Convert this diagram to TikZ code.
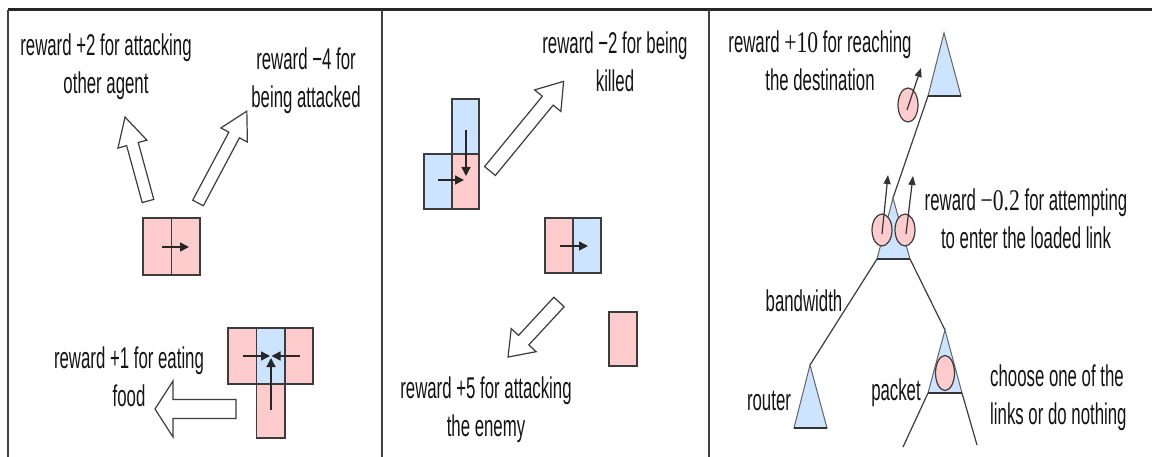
\documentclass[tikz,border=0pt]{standalone}
\usepackage{fontspec}
\setmainfont{Liberation Sans}[FakeStretch=0.56]
\newfontfamily\serifnum{Liberation Serif}[FakeStretch=0.72]
\usetikzlibrary{arrows.meta}
\definecolor{pinkc}{RGB}{255,204,206}
\definecolor{bluec}{RGB}{204,228,255}
\definecolor{edgec}{RGB}{60,60,60}
\newcommand\harrow[7]{%
  \begin{scope}[shift={(#1,#2)},rotate=#3]
    \draw[hollow] (0,-#5) -- ({#4-#7},-#5) -- ({#4-#7},-#6) -- (#4,0) -- ({#4-#7},#6) -- ({#4-#7},#5) -- (0,#5) -- cycle;
  \end{scope}}
\begin{document}
\begin{tikzpicture}[x=1pt,y=-1pt,
  lbl/.style={font=\fontsize{30}{38}\selectfont, align=center, inner sep=0pt, text=black!92},
  pcell/.style={draw=edgec, fill=pinkc, line width=1.3pt},
  bcell/.style={draw=edgec, fill=bluec, line width=1.3pt},
  hollow/.style={draw=edgec, fill=white, line width=1.2pt, line join=miter},
  inarrow/.style={line width=1.4pt, draw=black!85, -{Triangle[length=9pt,width=9pt]}},
  smallarrow/.style={line width=1.2pt, draw=black!80, -{Triangle[length=9pt,width=7pt]}},
  frame/.style={line width=2pt, draw=black!75},
  tri/.style={fill=bluec, draw=edgec!80, line width=1pt},
  base/.style={draw=black!80, line width=2pt},
  link/.style={draw=edgec, line width=1.2pt},
  pk/.style={fill=pinkc, draw=edgec, line width=1.2pt}]
\useasboundingbox[fill=white] (0,0) rectangle (1152,457);

% frame
\draw[line width=3pt, draw=black!85] (8,10) -- (1152,10);
\draw[frame] (8,10) -- (8,457);
\draw[frame] (382,10) -- (382,457);
\draw[frame] (709,10) -- (709,457);

% ---------- panel 1 ----------
\node[lbl] (t1) at (106,67) {reward +2 for attacking\\other agent};
\node[lbl] (t2) at (306,81) {reward −4 for\\being attacked};
\node[lbl] (t3) at (129,377) {reward +1 for eating\\food};
\harrow{148}{201}{105.3}{87}{6}{15}{28}
\harrow{198}{203}{62}{104}{6}{15}{27}
\harrow{236}{409}{180}{81}{9.5}{28}{18}

\draw[pcell] (143,218) rectangle (171.5,275);
\draw[pcell] (171.5,218) rectangle (200,275);
\draw[inarrow] (162,247) -- (189,247);

\draw[pcell] (228,328) rectangle (256.5,384);
\draw[bcell] (256.5,328) rectangle (285,384);
\draw[pcell] (285,328) rectangle (313,384);
\draw[pcell] (256.5,384) rectangle (285,438);
\draw[inarrow] (243,356) -- (270,356);
\draw[inarrow] (300,356) -- (271.5,356);
\draw[inarrow] (271,410) -- (271,358);

% ---------- panel 2 ----------
\node[lbl] (t4) at (615,62) {reward −2 for being\\killed};
\node[lbl] (t5) at (486,410) {reward +5 for attacking\\the enemy};
\harrow{490}{171}{50.6}{116}{7}{17}{25}
\harrow{559}{302}{227.2}{75}{7}{17}{23}

\draw[bcell] (452,99) rectangle (479,154);
\draw[bcell] (424,154) rectangle (452,209);
\draw[pcell] (452,154) rectangle (479,209);
\draw[inarrow] (466,130) -- (466,176);
\draw[inarrow] (438,180) -- (464,180);

\draw[pcell] (545,218) rectangle (573,273);
\draw[bcell] (573,218) rectangle (601,273);
\draw[inarrow] (560,246) -- (588,246);

\draw[pcell] (609,312) rectangle (637,366);

% ---------- panel 3 ----------
\node[lbl] (t6) at (820,61) {reward {\serifnum +10} for reaching\\the destination};
\node[lbl] (t7) at (1026,219) {reward {\serifnum −0.2} for attempting\\to enter the loaded link};
\node[lbl] (t8) at (804,301) {bandwidth};
\node[lbl] (t9) at (769,401) {router};
\node[lbl] (t10) at (896,393) {packet};
\node[lbl, align=left, anchor=west] (t11) at (990,398) {choose one of the\\links or do nothing};

% links
\draw[link] (928,96) -- (893,198);
\draw[link] (877,259) -- (810,365);
\draw[link] (910,259) -- (945,330);
\draw[link] (928,393) -- (903,447);
\draw[link] (962,393) -- (977,445);

% top triangle
\fill[tri] (944,33) -- (961,96) -- (928,96) -- cycle;
\draw[base] (928,96) -- (961,96);
% mid triangle
\fill[tri] (893,198) -- (910,259) -- (877,259) -- cycle;
\draw[base] (877,259) -- (910,259);
% router triangle
\fill[tri] (810,365) -- (827,428) -- (794,428) -- cycle;
\draw[base] (794,428) -- (827,428);
% packet triangle
\fill[tri] (945,330) -- (962,393) -- (928,393) -- cycle;
\draw[base] (928,393) -- (962,393);

% packets
\draw[pk] (908,105) ellipse [x radius=10, y radius=17];
\draw[smallarrow] (907,110) -- (921,68);
\draw[pk] (882,230) ellipse [x radius=10, y radius=16];
\draw[pk] (905,230) ellipse [x radius=10, y radius=16];
\draw[smallarrow] (882,234) -- (888,175);
\draw[smallarrow] (906,234) -- (913,176);
\draw[pk] (945,373) ellipse [x radius=9.5, y radius=17.5];
\end{tikzpicture}
\end{document}
